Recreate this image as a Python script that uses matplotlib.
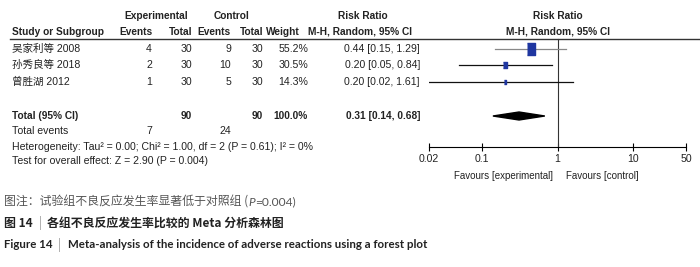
import numpy as np
import matplotlib
matplotlib.use("Agg")
import matplotlib.pyplot as plt

# Data
studies = ["吴家利等 2008", "孙秀良等 2018", "曾胜湖 2012"]
exp_events = [4, 2, 1]
exp_total = [30, 30, 30]
ctrl_events = [9, 10, 5]
ctrl_total = [30, 30, 30]
weights = [55.2, 30.5, 14.3]
rr = [0.44, 0.20, 0.20]
rr_lo = [0.15, 0.05, 0.02]
rr_hi = [1.29, 0.84, 1.61]
total_rr, total_lo, total_hi = 0.31, 0.14, 0.68
axis_ticks = [0.02, 0.1, 1, 10, 50]
axis_labels = ["0.02", "0.1", "1", "10", "50"]

FONT = ["Liberation Sans", "Noto Sans CJK SC"]
FS = 7.6
BLUE = "#1f36a0"

fig = plt.figure(figsize=(7.0, 2.67), dpi=100)
ax = fig.add_axes([0, 0, 1, 1])
ax.set_xlim(0, 700)
ax.set_ylim(267, 0)
ax.axis("off")


def t(x, y, s, ha="left", bold=False, size=FS, color="#222222", family=FONT, **kw):
    return ax.text(x, y, s, ha=ha, va="center", fontsize=size, color=color,
                   family=family, fontweight="bold" if bold else "normal", **kw)


# headers
t(156, 16, "Experimental", ha="center", bold=True, size=7.3)
t(231, 16, "Control", ha="center", bold=True, size=7.3)
t(363, 16, "Risk Ratio", ha="center", bold=True, size=7.3)
t(558, 16, "Risk Ratio", ha="center", bold=True, size=7.3)
t(12, 32, "Study or Subgroup", bold=True, size=7.3)
t(152, 32, "Events", ha="right", bold=True, size=7.3)
t(192, 32, "Total", ha="right", bold=True, size=7.3)
t(231, 32, "Events", ha="right", bold=True, size=7.3)
t(263, 32, "Total", ha="right", bold=True, size=7.3)
t(300, 32, "Weight", ha="right", bold=True, size=7.3)
t(360, 32, "M-H, Random, 95% CI", ha="center", bold=True, size=7.3)
t(558, 32, "M-H, Random, 95% CI", ha="center", bold=True, size=7.3)
ax.plot([10, 700], [39, 39], color="#333333", lw=1.0)

rows_y = [49, 65, 82]
for i, y in enumerate(rows_y):
    t(12, y, studies[i])
    t(152, y, str(exp_events[i]), ha="right")
    t(192, y, str(exp_total[i]), ha="right")
    t(231, y, str(ctrl_events[i]), ha="right")
    t(263, y, str(ctrl_total[i]), ha="right")
    t(308, y, f"{weights[i]:.1f}%", ha="right")
    t(420, y, f"{rr[i]:.2f} [{rr_lo[i]:.2f}, {rr_hi[i]:.2f}]", ha="right")

ty = 116
t(12, ty, "Total (95% CI)", bold=True, size=7.3)
t(192, ty, str(sum(exp_total)), ha="right", bold=True, size=7.3)
t(263, ty, str(sum(ctrl_total)), ha="right", bold=True, size=7.3)
t(308, ty, f"{sum(weights):.1f}%", ha="right", bold=True, size=7.3)
t(420, ty, f"{total_rr:.2f} [{total_lo:.2f}, {total_hi:.2f}]", ha="right", bold=True, size=7.3)
t(12, 131, "Total events")
t(152, 131, str(sum(exp_events)), ha="right")
t(231, 131, str(sum(ctrl_events)), ha="right")
t(12, 147, "Heterogeneity: Tau² = 0.00; Chi² = 1.00, df = 2 (P = 0.61); I² = 0%")
t(12, 161, "Test for overall effect: Z = 2.90 (P = 0.004)")

# forest panel
fa = fig.add_axes([429 / 700, 0, 257 / 700, 1])
fa.set_xscale("log")
fa.set_xlim(0.02, 50)
fa.set_ylim(267, 0)
fa.patch.set_alpha(0)
for s in ["top", "left", "right"]:
    fa.spines[s].set_visible(False)
fa.spines["bottom"].set_position(("data", 147))
fa.spines["bottom"].set_linewidth(0.8)
fa.set_yticks([])
fa.set_xticks(axis_ticks)
fa.set_xticklabels(axis_labels, family=FONT, fontsize=FS, color="#222222")
fa.minorticks_off()
fa.tick_params(axis="x", direction="inout", length=6, width=0.8, pad=2)

fa.plot([1, 1], [39, 147], color="#333333", lw=0.8)
line_cols = ["#888888", "#111111", "#111111"]
for i, y in enumerate(rows_y):
    fa.plot([rr_lo[i], rr_hi[i]], [y, y], color=line_cols[i], lw=0.9)
    fa.plot([rr[i]], [y], marker=[(-0.6, -1), (0.6, -1), (0.6, 1), (-0.6, 1)],
            markersize=8.8 * weights[i] / 55.2, color=BLUE, linestyle="none")

fa.fill([total_lo, total_rr, total_hi, total_rr], [ty, ty - 4, ty, ty + 4], color="black")
t(553, 176, "Favours [experimental]", ha="right", size=7.0)
t(566, 176, "Favours [control]", ha="left", size=7.0)

# captions
CJK = ["Noto Sans CJK SC", "DejaVu Sans"]
LAT = ["Lato", "DejaVu Sans"]
c1 = ax.text(4, 202, "图注：试验组不良反应发生率显著低于对照组 (", ha="left", va="center",
             fontsize=8.6, color="#555555", family=CJK)
ax.text(4, 223, "图 14", ha="left", va="center", fontsize=8.6, color="#222222", family=CJK, fontweight="bold")
ax.text(40, 223, "|", ha="center", va="center", fontsize=8.6, color="#999999", family=CJK)
ax.text(47, 223, "各组不良反应发生率比较的 Meta 分析森林图", ha="left", va="center",
        fontsize=8.6, color="#222222", family=CJK, fontweight="bold")
ax.text(4, 245, "Figure 14", ha="left", va="center", fontsize=8.3, color="#222222",
        family=LAT, fontweight="bold")
ax.text(59, 245, "|", ha="center", va="center", fontsize=8.6, color="#999999", family=CJK)
ax.text(68, 245, "Meta-analysis of the incidence of adverse reactions using a forest plot",
        ha="left", va="center", fontsize=8.3, color="#222222", family=LAT, fontweight="bold")

fig.canvas.draw()
# italic P after the first caption line
r = fig.canvas.get_renderer()
inv = ax.transData.inverted()
x0 = inv.transform((c1.get_window_extent(r).x1, 0))[0]
pt = ax.text(x0, 202, "P", ha="left", va="center", fontsize=8.6, color="#555555",
             family=LAT, style="italic")
x1 = inv.transform((pt.get_window_extent(r).x1, 0))[0]
ax.text(x1, 202, "=0.004)", ha="left", va="center", fontsize=8.6, color="#555555", family=LAT)

fig.savefig("out.png", dpi=100)
